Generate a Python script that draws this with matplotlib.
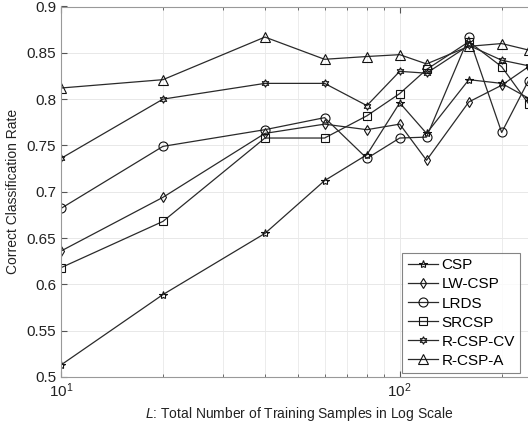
import numpy as np
import matplotlib
matplotlib.use("Agg")
import matplotlib.pyplot as plt
from matplotlib.ticker import LogLocator, NullFormatter

plt.rcParams['font.family'] = ['Liberation Sans', 'DejaVu Sans']
plt.rcParams['mathtext.fontset'] = 'custom'
plt.rcParams['mathtext.rm'] = 'Liberation Sans'
plt.rcParams['mathtext.it'] = 'Liberation Sans:italic'

# Training samples L
L = [10, 20, 40, 60, 80, 100, 120, 160, 200, 240]

# Correct classification rates
csp = [0.513, 0.589, 0.655, 0.712, 0.740, 0.796, 0.763, 0.821, 0.817, 0.801]
lw_csp = [0.636, 0.694, 0.763, 0.773, 0.767, 0.773, 0.734, 0.797, 0.815, 0.835]
lrds = [0.682, 0.749, 0.767, 0.780, 0.736, 0.758, 0.759, 0.867, 0.764, 0.820]
srcsp = [0.618, 0.668, 0.758, 0.758, 0.782, 0.806, 0.832, 0.862, 0.835, 0.795]
rcsp_cv = [0.736, 0.800, 0.817, 0.817, 0.793, 0.830, 0.828, 0.858, 0.842, 0.836]
rcsp_a = [0.812, 0.821, 0.867, 0.843, 0.846, 0.848, 0.838, 0.857, 0.860, 0.853]

names = ["CSP", "LW-CSP", "LRDS", "SRCSP", "R-CSP-CV", "R-CSP-A"]
series = [csp, lw_csp, lrds, srcsp, rcsp_cv, rcsp_a]
markers = ["*", "d", "o", "s", (6, 1, 0), "^"]
sizes = [6, 5.5, 6.5, 5.5, 5.5, 6.5]
ytick_labels = ["0.5", "0.55", "0.6", "0.65", "0.7", "0.75", "0.8", "0.85", "0.9"]

fig = plt.figure(figsize=(5.28, 4.28), dpi=100)
ax = fig.add_axes([61/528, 51/428, 477/528, 370.5/428])

for vals, name, m, s in zip(series, names, markers, sizes):
    ax.plot(L, vals, color='#2a2a2a', lw=0.9, marker=m, markersize=s,
            markerfacecolor='none', markeredgecolor='#111111',
            markeredgewidth=0.8, label=name)

ax.set_xscale('log')
ax.set_xlim(10, 256)
ax.set_ylim(0.5, 0.9)
ax.set_yticks(np.arange(0.5, 0.901, 0.05))
ax.set_yticklabels(ytick_labels)
ax.xaxis.set_major_locator(LogLocator(base=10))
ax.xaxis.set_minor_locator(LogLocator(base=10, subs=np.arange(2, 10)))
ax.xaxis.set_minor_formatter(NullFormatter())

# light matlab-style grid
ax.grid(True, which='major', color='#e8e8e8', lw=0.7)
ax.grid(True, which='minor', axis='x', color='#ececec', lw=0.7)
ax.set_axisbelow(True)
ax.tick_params(which='both', direction='in', top=True, right=True,
               colors='#555555', labelcolor='#222222', labelsize=11)
ax.tick_params(which='major', length=4)
ax.tick_params(which='minor', length=2)
for sp in ax.spines.values():
    sp.set_color('#999999')
    sp.set_linewidth(0.8)

ax.set_xlabel(r"$L$: Total Number of Training Samples in Log Scale",
              fontsize=10, color='#222222', labelpad=3)
ax.set_ylabel("Correct Classification Rate", fontsize=10, color='#222222', labelpad=5)

leg = ax.legend(loc='lower right', bbox_to_anchor=(520/528, 55/428),
                bbox_transform=fig.transFigure, borderaxespad=0,
                fontsize=11, frameon=True, fancybox=False, handlelength=2.0,
                handletextpad=0.2, labelspacing=0.33, borderpad=0.35)
leg.get_frame().set_edgecolor('#666666')
leg.get_frame().set_linewidth(0.8)

fig.savefig("out.png", dpi=100)
